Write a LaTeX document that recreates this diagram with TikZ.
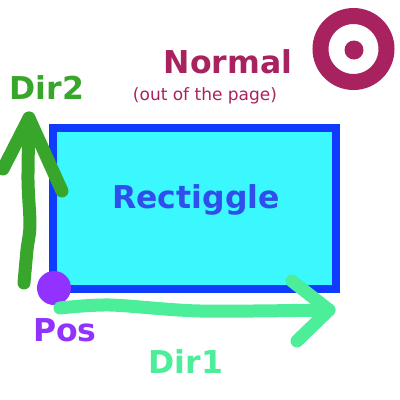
\documentclass[tikz,border=0pt]{standalone}
\usepackage{fontspec}
\setmainfont{DejaVu Sans}
\usetikzlibrary{calc}

\definecolor{rectfill}{HTML}{3AF8FD}
\definecolor{rectline}{HTML}{0F3BFF}
\definecolor{recttext}{HTML}{2E4FEB}
\definecolor{normalcol}{HTML}{A8225F}
\definecolor{dirtwocol}{HTML}{37A62B}
\definecolor{dironecol}{HTML}{4DEE9A}
\definecolor{poscol}{HTML}{9232FF}

\tikzset{
    bigtext/.style={font=\bfseries\fontsize{31.5}{36}\selectfont, inner sep=0pt},
    sketch/.style={line width=13pt, line cap=round, line join=round}
}

\begin{document}
\begin{tikzpicture}[x=1pt,y=-1pt]

\useasboundingbox (0,0) rectangle (400,400);

% Rectangle
\draw[rectline, fill=rectfill, line width=8pt] (52.5,128) rectangle (335.5,289);
\node[bigtext, text=recttext] (rect) at (196,200) {Rectiggle};

% Normal
\node[bigtext, text=normalcol] (normal) at (228,62) {Normal};
\node[text=normalcol, font=\fontsize{17}{20}\selectfont, inner sep=0pt] (page) at (205,96) {(out of the page)};
\draw[normalcol, line width=16pt] (353.5,49) circle[radius=33pt];
\fill[normalcol] (354,50) circle[radius=9.5pt];

% Dir2 arrow
\coordinate (d2base) at (24,283);
\coordinate (d2tip) at (29,118);
\coordinate (d2left) at (3,169);
\coordinate (d2right) at (62,191);
\draw[dirtwocol, sketch] plot[smooth] coordinates {(d2base) (27,250) (30,225) (28,180) (d2tip)};
\draw[dirtwocol, sketch] (d2left) -- (d2tip) -- (d2right);
\node[bigtext, text=dirtwocol] (dirtwo) at (47,88) {Dir2};

% Pos
\node[circle, fill=poscol, minimum size=34pt, inner sep=0pt] (pos) at (54,288) {};
\node[bigtext, text=poscol] (poslabel) at (65,330) {Pos};

% Dir1 arrow
\coordinate (d1base) at (60,308);
\coordinate (d1tip) at (329,310);
\coordinate (d1up) at (292,281);
\coordinate (d1down) at (297,341);
\draw[dironecol, sketch] plot[smooth] coordinates {(d1base) (110,305) (200,311) (d1tip)};
\draw[dironecol, sketch] (d1up) -- (d1tip) -- (d1down);
\node[bigtext, text=dironecol] (dirone) at (186,362) {Dir1};

\end{tikzpicture}
\end{document}
